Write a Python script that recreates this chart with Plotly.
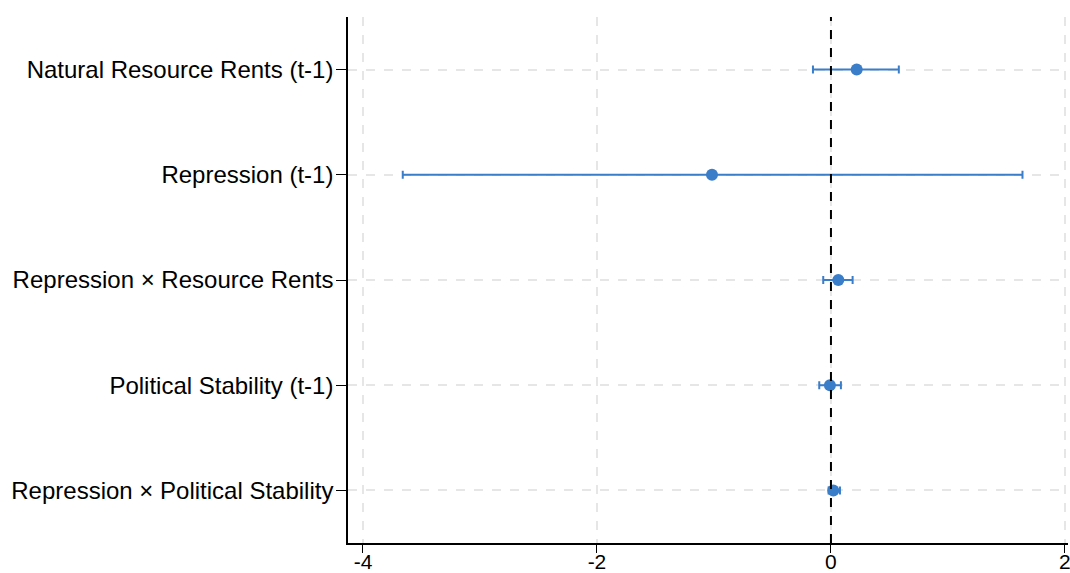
import plotly.graph_objects as go

labels = ["Natural Resource Rents (t-1)", "Repression (t-1)", "Repression × Resource Rents",
          "Political Stability (t-1)", "Repression × Political Stability"]
coef = [0.22, -1.017, 0.063, -0.009, 0.02]
ci_low = [-0.154, -3.66, -0.066, -0.10, -0.02]
ci_high = [0.58, 1.637, 0.185, 0.085, 0.077]
xticks = [-4, -2, 0, 2]

color = "#3a7dc9"
pos = [1, 2, 3, 4, 5]

fig = go.Figure()
fig.add_trace(go.Scatter(
    x=coef, y=pos, mode="markers",
    marker=dict(color=color, size=12),
    error_x=dict(type="data", symmetric=False,
                 array=[h - c for h, c in zip(ci_high, coef)],
                 arrayminus=[c - l for c, l in zip(coef, ci_low)],
                 color=color, thickness=2, width=4),
    showlegend=False,
))
fig.add_vline(x=0, line=dict(color="black", width=2, dash="dash"))

fig.update_layout(
    width=1070, height=573,
    margin=dict(l=348, r=2, t=17, b=30, autoexpand=False),
    plot_bgcolor="white", paper_bgcolor="white",
    font=dict(family="Liberation Sans, Arial, sans-serif", color="black"),
)
fig.update_xaxes(
    range=[-4.128, 2.026], tickvals=xticks, ticktext=[str(v) for v in xticks],
    showgrid=True, gridcolor="#e6e6e6", griddash="dash", gridwidth=2,
    zeroline=False, showline=True, linecolor="black", linewidth=1.5,
    ticks="outside", ticklen=8, tickcolor="black", tickfont=dict(size=21),
    ticklabelstandoff=-9, ticklabeloverflow="allow",
    automargin=False,
)
fig.update_yaxes(
    range=[5.5, 0.5], tickvals=pos, ticktext=labels,
    showgrid=True, gridcolor="#e6e6e6", griddash="dash", gridwidth=2,
    zeroline=False, showline=True, linecolor="black", linewidth=1.5,
    ticks="outside", ticklen=10, tickcolor="black", tickfont=dict(size=24),
    ticklabelstandoff=-2,
    automargin=False,
)
fig.write_html("out.html", config={"displayModeBar": False},
               post_script=["document.body.style.margin='0';document.body.style.overflow='hidden';"])
